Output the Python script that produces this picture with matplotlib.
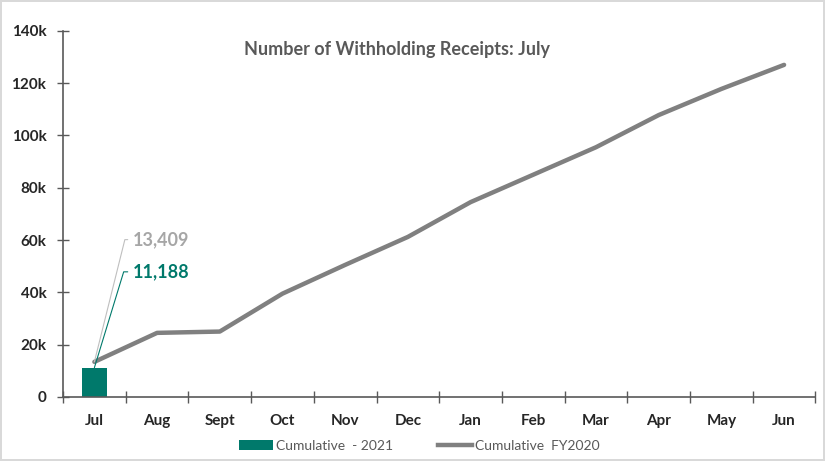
import matplotlib.pyplot as plt
from matplotlib.lines import Line2D
from matplotlib.patches import Patch
from matplotlib.ticker import FuncFormatter, FixedLocator

plt.rcParams['font.family'] = ['Lato', 'DejaVu Sans']

months = ['Jul', 'Aug', 'Sept', 'Oct', 'Nov', 'Dec', 'Jan', 'Feb', 'Mar', 'Apr', 'May', 'Jun']
cum_2021 = [11188]
cum_fy2020 = [13409, 24500, 25000, 39500, 50500, 61200, 74500, 85000, 95500, 107800, 117800, 127000]

teal = '#00796B'
grey_line = '#808080'

fig = plt.figure(figsize=(8.25, 4.61), dpi=100)
fig.patch.set_edgecolor('#D9D9D9')
fig.patch.set_linewidth(1.5)
ax = fig.add_axes([0.0764, 0.139, 0.912, 0.794])

x = list(range(len(months)))
ax.bar(x[:len(cum_2021)], cum_2021, width=0.4, color=teal, zorder=2)
ax.plot(x, cum_fy2020, color=grey_line, lw=3.2, solid_capstyle='round', zorder=3)

# data labels with leader lines
ax.annotate(f'{cum_fy2020[0]:,}', xy=(x[0], cum_fy2020[0]), xytext=(28, 88),
            textcoords='offset points', ha='left', va='center', fontsize=13,
            fontweight='bold', color='#A6A6A6',
            arrowprops=dict(arrowstyle='-', color='#BFBFBF', lw=0.8, relpos=(0, 0.5),
                            shrinkA=2, shrinkB=0,
                            connectionstyle='angle,angleA=180,angleB=76,rad=0'))
ax.annotate(f'{cum_2021[0]:,}', xy=(x[0], cum_2021[0]), xytext=(28, 69),
            textcoords='offset points', ha='left', va='center', fontsize=13,
            fontweight='bold', color=teal,
            arrowprops=dict(arrowstyle='-', color=teal, lw=0.8, relpos=(0, 0.5),
                            shrinkA=2, shrinkB=0,
                            connectionstyle='angle,angleA=180,angleB=73,rad=0'))

ax.set_xlim(-0.5, len(months) - 0.5)
ax.set_ylim(0, 140000)
ax.set_yticks(range(0, 140001, 20000))
ax.yaxis.set_major_formatter(FuncFormatter(lambda v, p: '0' if v == 0 else f'{v/1000:.0f}k'))
ax.set_xticks(x)
ax.set_xticklabels(months)
ax.xaxis.set_minor_locator(FixedLocator([i - 0.5 for i in range(len(months) + 1)]))
ax.tick_params(axis='x', which='major', length=0, pad=12)
ax.tick_params(axis='x', which='minor', length=8, direction='inout', color='#595959', width=1)
ax.tick_params(axis='y', length=8, direction='inout', color='#595959', width=1, pad=8)
for lab in ax.get_xticklabels() + ax.get_yticklabels():
    lab.set_fontweight('bold')
    lab.set_fontsize(11)
    lab.set_color('#262626')

for s in ['top', 'right']:
    ax.spines[s].set_visible(False)
for s in ['left', 'bottom']:
    ax.spines[s].set_color('#595959')
    ax.spines[s].set_linewidth(1.2)

ax.text(0.444, 0.972, 'Number of Withholding Receipts: July', transform=ax.transAxes,
        ha='center', va='top', fontsize=13, fontweight='bold', color='#595959')

handles = [Patch(facecolor=teal, label='Cumulative  - 2021'),
           Line2D([0], [0], color=grey_line, lw=3.2, label='Cumulative  FY2020')]
fig.legend(handles=handles, loc='center', bbox_to_anchor=(0.508, 0.033), ncol=2,
           frameon=False, fontsize=10, labelcolor='#595959', columnspacing=3.2,
           handlelength=2.5, handletextpad=0.2)

fig.savefig('out.png', dpi=100, edgecolor=fig.get_edgecolor())
